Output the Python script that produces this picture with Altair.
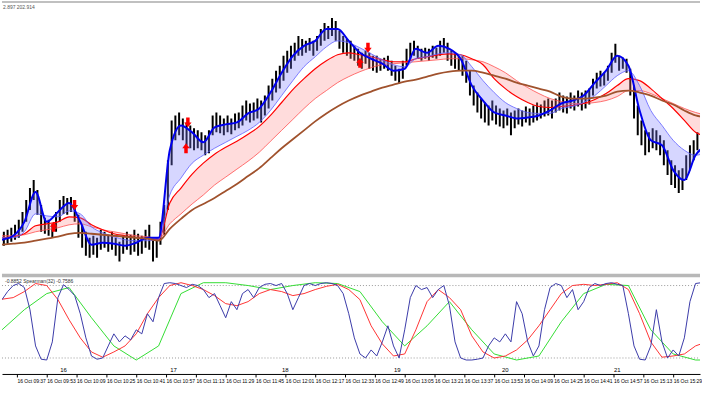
import altair as alt
import pandas as pd

# ---------------- price bars (2-minute sampling, minutes since midnight) ----------------
bar_high = [201.68,201.70,201.72,201.75,201.80,201.88,202.00,202.12,202.20,202.10,
            201.95,201.82,201.80,201.76,201.88,202.00,202.04,202.02,202.03,201.95,
            201.85,201.75,201.68,201.62,201.64,201.62,201.70,201.68,201.65,201.68,
            201.62,201.58,201.64,201.68,201.65,201.70,201.66,201.64,201.70,201.75,
            201.60,201.62,201.78,201.95,202.40,202.80,202.85,202.88,202.82,202.78,
            202.75,202.72,202.70,202.68,202.65,202.70,202.85,202.88,202.85,202.82,
            202.85,202.82,202.87,202.88,202.95,203.00,202.97,202.98,203.02,203.00,
            203.05,203.15,203.22,203.30,203.35,203.45,203.50,203.55,203.58,203.65,
            203.62,203.60,203.63,203.60,203.65,203.72,203.78,203.75,203.83,203.80,
            203.70,203.65,203.62,203.60,203.55,203.52,203.48,203.50,203.48,203.45,
            203.45,203.42,203.43,203.45,203.40,203.35,203.32,203.40,203.52,203.58,
            203.60,203.55,203.52,203.53,203.52,203.55,203.53,203.60,203.63,203.58,
            203.50,203.48,203.45,203.45,203.40,203.30,203.15,203.08,203.02,202.98,
            202.95,203.00,202.95,202.92,202.90,202.92,202.88,202.90,202.92,202.90,
            202.94,202.92,202.95,202.98,202.96,203.00,203.02,203.00,203.02,203.08,
            203.05,203.04,203.08,203.05,203.10,203.08,203.10,203.12,203.22,203.28,
            203.30,203.28,203.35,203.48,203.57,203.45,203.43,203.42,203.32,203.15,
            202.95,202.80,202.70,202.68,202.72,202.70,202.65,202.60,202.50,202.40,
            202.35,202.30,202.32,202.45,202.55,202.60,202.68]
bar_low = [201.54,201.56,201.58,201.60,201.62,201.68,201.78,201.90,202.00,201.85,
           201.68,201.66,201.64,201.62,201.68,201.78,201.86,201.85,201.88,201.78,
           201.62,201.52,201.44,201.42,201.45,201.42,201.50,201.52,201.48,201.50,
           201.44,201.38,201.46,201.50,201.45,201.48,201.44,201.46,201.52,201.50,
           201.38,201.42,201.55,201.65,201.90,202.35,202.60,202.65,202.60,202.55,
           202.52,202.50,202.52,202.50,202.45,202.47,202.65,202.68,202.67,202.65,
           202.68,202.66,202.70,202.72,202.75,202.80,202.78,202.80,202.82,202.78,
           202.85,202.92,203.00,203.08,203.12,203.20,203.28,203.32,203.40,203.45,
           203.45,203.48,203.50,203.45,203.50,203.55,203.60,203.62,203.65,203.60,
           203.52,203.48,203.45,203.42,203.40,203.35,203.32,203.37,203.32,203.30,
           203.28,203.30,203.32,203.30,203.25,203.20,203.17,203.22,203.35,203.42,
           203.45,203.42,203.40,203.42,203.40,203.43,203.42,203.45,203.48,203.40,
           203.35,203.32,203.30,203.25,203.18,203.05,202.95,202.88,202.82,202.78,
           202.75,202.80,202.76,202.74,202.72,202.75,202.65,202.72,202.76,202.74,
           202.78,202.75,202.78,202.80,202.82,202.84,202.85,202.82,202.88,202.90,
           202.88,202.87,202.92,202.90,202.94,202.90,202.92,202.96,203.05,203.12,
           203.14,203.15,203.20,203.28,203.38,203.30,203.32,203.28,203.05,202.82,
           202.65,202.55,202.45,202.48,202.52,202.50,202.45,202.35,202.25,202.15,
           202.12,202.07,202.10,202.20,202.30,202.40,202.50]
bar_time = [570 + 2 * k for k in range(len(bar_high))]

# ---------------- moving-average ribbons (6-minute sampling) ----------------
blue_fast = [201.60,201.64,201.78,202.08,201.78,201.88,201.97,201.78,201.55,201.57,
             201.56,201.54,201.57,201.62,201.62,202.50,202.75,202.68,202.58,202.73,
             202.76,202.78,202.87,202.92,203.08,203.28,203.45,203.55,203.60,203.72,
             203.72,203.60,203.48,203.42,203.37,203.30,203.32,203.52,203.48,203.55,
             203.52,203.42,203.15,203.00,202.88,202.85,202.82,202.83,202.85,202.90,
             202.97,203.00,203.05,203.18,203.30,203.45,203.35,202.90,202.60,202.55,
             202.30,202.20,202.45,202.55]
blue_slow = [201.62,201.62,201.68,201.86,201.84,201.83,201.89,201.86,201.73,201.67,
             201.63,201.60,201.59,201.59,201.60,202.05,202.22,202.37,202.45,202.52,
             202.58,202.64,202.70,202.78,202.90,203.05,203.20,203.34,203.44,203.54,
             203.60,203.58,203.53,203.47,203.41,203.36,203.34,203.42,203.44,203.47,
             203.48,203.46,203.34,203.20,203.08,202.98,202.92,202.88,202.87,202.87,
             202.92,202.94,202.98,203.05,203.15,203.25,203.30,203.15,202.90,202.75,
             202.60,202.50,202.45,202.48]
red_fast = [201.62,201.63,201.66,201.74,201.76,201.78,201.83,201.82,201.75,201.70,
            201.66,201.64,201.62,201.61,201.60,201.97,202.12,202.26,202.37,202.46,
            202.53,202.59,202.66,202.74,202.85,202.98,203.11,203.22,203.32,203.40,
            203.46,203.48,203.46,203.44,203.41,203.39,203.39,203.42,203.44,203.46,
            203.47,203.46,203.42,203.36,203.22,203.12,203.04,202.98,202.94,202.93,
            202.94,202.95,202.97,203.01,203.07,203.15,203.22,203.20,203.12,203.02,
            202.92,202.80,202.68,202.64]
red_slow = [201.64,201.64,201.65,201.68,201.70,201.72,201.75,201.76,201.73,201.70,
            201.68,201.66,201.64,201.63,201.61,201.76,201.86,201.96,202.05,202.15,
            202.23,202.31,202.39,202.48,202.59,202.70,202.81,202.92,203.02,203.10,
            203.18,203.24,203.29,203.33,203.36,203.37,203.38,203.39,203.40,203.41,
            203.42,203.42,203.41,203.39,203.34,203.28,203.20,203.13,203.07,203.02,
            202.99,202.97,202.97,202.98,203.00,203.04,203.10,203.10,203.07,203.02,
            202.97,202.92,202.88,202.85]
brown_slow = [201.55,201.56,201.57,201.59,201.61,201.63,201.66,201.67,201.66,201.65,
              201.64,201.63,201.62,201.61,201.59,201.71,201.81,201.90,201.96,202.02,
              202.09,202.16,202.24,202.32,202.42,202.52,202.61,202.70,202.79,202.87,
              202.94,203.00,203.05,203.09,203.13,203.16,203.19,203.21,203.24,203.27,
              203.29,203.30,203.30,203.28,203.25,203.22,203.18,203.15,203.12,203.09,
              203.04,203.02,203.02,203.03,203.05,203.09,203.10,203.08,203.05,203.00,
              202.96,202.90,202.85,202.83]
ma_time = [569 + 6 * j for j in range(len(blue_fast))]

# ---------------- signal arrows ----------------
arrow_down_time = [607.9, 668.7, 765.3]
arrow_down_price = [201.95, 202.78, 203.53]
arrow_up_time = [596.7, 667.7, 761.0]
arrow_up_price = [201.73, 202.52, 203.38]

# ---------------- Spearman oscillator panel ----------------
osc_blue = [0.55,0.75,0.9,0.95,0.85,0.3,-0.6,-0.93,-0.95,-0.5,
            0.6,0.92,0.8,0.65,0.2,-0.4,-0.85,-0.93,-0.9,-0.6,
            -0.3,-0.5,-0.35,-0.45,-0.2,-0.3,0.2,0.0,0.6,0.95,
            0.97,0.95,0.9,0.85,0.93,0.9,0.8,0.6,0.7,0.4,
            0.1,0.5,0.3,0.7,0.8,0.6,0.85,0.93,0.95,0.9,
            0.95,0.7,0.3,0.6,0.9,0.95,0.9,0.95,0.97,0.95,
            0.9,0.7,0.2,-0.4,-0.8,-0.9,-0.7,-0.85,-0.5,-0.1,
            -0.6,-0.9,-0.2,0.6,0.9,0.8,0.85,0.6,0.8,0.9,
            0.4,-0.5,-0.9,-0.95,-0.95,-0.93,-0.9,-0.6,-0.4,-0.5,
            -0.3,-0.5,0.5,0.2,-0.5,-0.85,-0.6,0.3,0.85,0.95,
            0.9,0.6,0.8,0.3,0.5,0.85,0.95,0.9,0.95,0.97,
            0.93,0.9,0.2,-0.6,-0.93,-0.95,-0.6,0.3,-0.5,-0.9,
            -0.7,-0.85,-0.4,0.5,0.95,0.97]
osc_blue_time = [569 + 3 * i for i in range(len(osc_blue))]
osc_red = [0.56,0.6,0.75,0.95,0.9,0.55,0.05,-0.4,-0.75,-0.88,
           -0.75,-0.6,-0.3,0.2,0.6,0.9,0.97,0.9,0.8,0.65,
           0.45,0.4,0.5,0.7,0.8,0.75,0.65,0.7,0.8,0.88,
           0.93,0.8,0.55,-0.1,-0.55,-0.85,-0.8,-0.2,0.5,0.8,
           0.6,0.3,-0.35,-0.75,-0.9,-0.85,-0.7,-0.45,-0.1,0.3,
           0.7,0.9,0.93,0.9,0.93,0.97,0.8,0.2,-0.5,-0.88,
           -0.85,-0.8,-0.6,-0.5]
osc_red_time = [569 + 6 * j for j in range(len(osc_red))]
osc_green = [-0.2,0.3,0.7,0.85,0.1,-0.6,-0.95,-0.6,0.7,0.97,
             0.97,0.9,0.8,0.9,0.97,0.95,0.75,0.0,-0.6,-0.1,
             0.5,-0.2,-0.8,-0.95,-0.85,0.0,0.7,0.93,0.9,-0.2,
             -0.8,-0.95,-0.95]
osc_green_time = [569 + 12 * m for m in range(len(osc_green))]
osc_levels = [0.9, -0.9]

# ---------------- labels ----------------
day_marks = [602, 661, 721, 781, 839, 899]
day_labels = ["16", "17", "18", "19", "20", "21"]
tick_values = [577 + 16 * n for n in range(23)]
top_info = "2.897 202.914"
osc_info = "-0.8852  Spearman(32) -0.7586"

FONT = "Liberation Sans"
W = 702
XDOM = [569, 569 + W * 16 / 30]

xs = alt.Scale(domain=XDOM, nice=False, zero=False)
ys_top = alt.Scale(domain=[201.26, 204.0], nice=False, zero=False)
ys_bot = alt.Scale(domain=[-1.099, 1.198], nice=False, zero=False)

bars = pd.DataFrame({"t": bar_time, "hi": bar_high, "lo": bar_low})
ma = pd.DataFrame({"t": ma_time, "bf": blue_fast, "bs": blue_slow,
                   "rf": red_fast, "rs": red_slow, "br": brown_slow})
arr_d = pd.DataFrame({"t": arrow_down_time, "p": arrow_down_price})
arr_u = pd.DataFrame({"t": arrow_up_time, "p": arrow_up_price})

X = alt.X("t:Q", scale=xs, axis=None)

bar_layer = alt.Chart(bars).mark_rule(color="#000000", strokeWidth=2, clip=True).encode(
    x=X, y=alt.Y("lo:Q", scale=ys_top, axis=None), y2="hi:Q")

def band(c1, c2, color, op):
    return alt.Chart(ma).mark_area(color=color, opacity=op, clip=True, interpolate="monotone").encode(
        x=X, y=alt.Y(f"{c1}:Q", scale=ys_top, axis=None), y2=f"{c2}:Q")

def line(col, color, w):
    return alt.Chart(ma).mark_line(color=color, strokeWidth=w, clip=True, interpolate="monotone").encode(
        x=X, y=alt.Y(f"{col}:Q", scale=ys_top, axis=None))

down_path = "M-0.35,-1L0.35,-1L0.35,0L0.75,0L0,1L-0.75,0L-0.35,0Z"
up_path = "M-0.35,1L0.35,1L0.35,0L0.75,0L0,-1L-0.75,0L-0.35,0Z"
arrows_d = alt.Chart(arr_d).mark_point(shape=down_path, filled=True, color="#ff0000", size=100, opacity=1).encode(
    x=X, y=alt.Y("p:Q", scale=ys_top, axis=None))
arrows_u = alt.Chart(arr_u).mark_point(shape=up_path, filled=True, color="#ff0000", size=100, opacity=1).encode(
    x=X, y=alt.Y("p:Q", scale=ys_top, axis=None))

top_border = alt.Chart(pd.DataFrame({"a": [0]})).mark_rule(color="#c0c0c0", strokeWidth=2).encode(
    x=alt.value(0), x2=alt.value(W), y=alt.value(1))
top_text = alt.Chart(pd.DataFrame({"s": [top_info]})).mark_text(
    align="left", baseline="middle", fontSize=5, font=FONT, color="#555555").encode(
    x=alt.value(1), y=alt.value(5.5), text="s:N")

top = alt.layer(
    bar_layer,
    band("rf", "rs", "#ff8080", 0.28),
    line("rs", "#ff5050", 0.8),
    line("rf", "#ff0000", 1.2),
    band("bf", "bs", "#8080ff", 0.32),
    line("bs", "#6060ff", 0.8),
    line("bf", "#0000ee", 2),
    line("br", "#a0522d", 1.8),
    arrows_d, arrows_u, top_border, top_text,
).properties(width=W, height=274)

# ---------------- bottom panel ----------------
ob = pd.DataFrame({"t": osc_blue_time, "v": osc_blue})
orr = pd.DataFrame({"t": osc_red_time, "v": osc_red})
og = pd.DataFrame({"t": osc_green_time, "v": osc_green})
lv = pd.DataFrame({"v": osc_levels})
dm = pd.DataFrame({"t": day_marks, "s": day_labels})

XB = alt.X("t:Q", scale=xs, title=None, axis=alt.Axis(
    values=tick_values, offset=8, tickSize=3, labelAlign="left", labelPadding=2,
    labelFontSize=5, labelFont=FONT, labelColor="#000000", domainColor="#000000",
    tickColor="#000000", grid=False, title=None, labelOverlap=False, labelFlush=False,
    labelBound=False,
    labelExpr="'16 Oct ' + format(floor(datum.value / 60), '02d') + ':' + format(datum.value % 60, '02d')"))

sep = alt.Chart(pd.DataFrame({"a": [0]})).mark_rule(color="#b8b8b8", strokeWidth=3.5).encode(
    x=alt.value(0), x2=alt.value(W), y=alt.value(2))
levels = alt.Chart(lv).mark_rule(color="#808080", strokeWidth=0.8, strokeDash=[1, 2]).encode(
    x=alt.value(0), x2=alt.value(W), y=alt.Y("v:Q", scale=ys_bot, axis=None))

def osc(df, color, w):
    return alt.Chart(df).mark_line(color=color, strokeWidth=w, clip=True).encode(
        x=XB, y=alt.Y("v:Q", scale=ys_bot, axis=None))

osc_text = alt.Chart(pd.DataFrame({"s": [osc_info]})).mark_text(
    align="left", baseline="middle", fontSize=5, font=FONT, color="#333333").encode(
    x=alt.value(3), y=alt.value(8), text="s:N")
days = alt.Chart(dm).mark_text(fontSize=6, font=FONT, color="#000000", baseline="middle").encode(
    x=XB, y=alt.value(97.5), text="s:N")

bottom = alt.layer(
    sep, levels,
    osc(og, "#33dd33", 1),
    osc(orr, "#ff3333", 1),
    osc(ob, "#3a3aa8", 1),
    osc_text, days,
).properties(width=W, height=93)

chart = alt.vconcat(top, bottom, spacing=0).properties(padding=0).configure_view(stroke=None)

chart.save("out.html", embed_options={"renderer": "svg", "actions": False})
